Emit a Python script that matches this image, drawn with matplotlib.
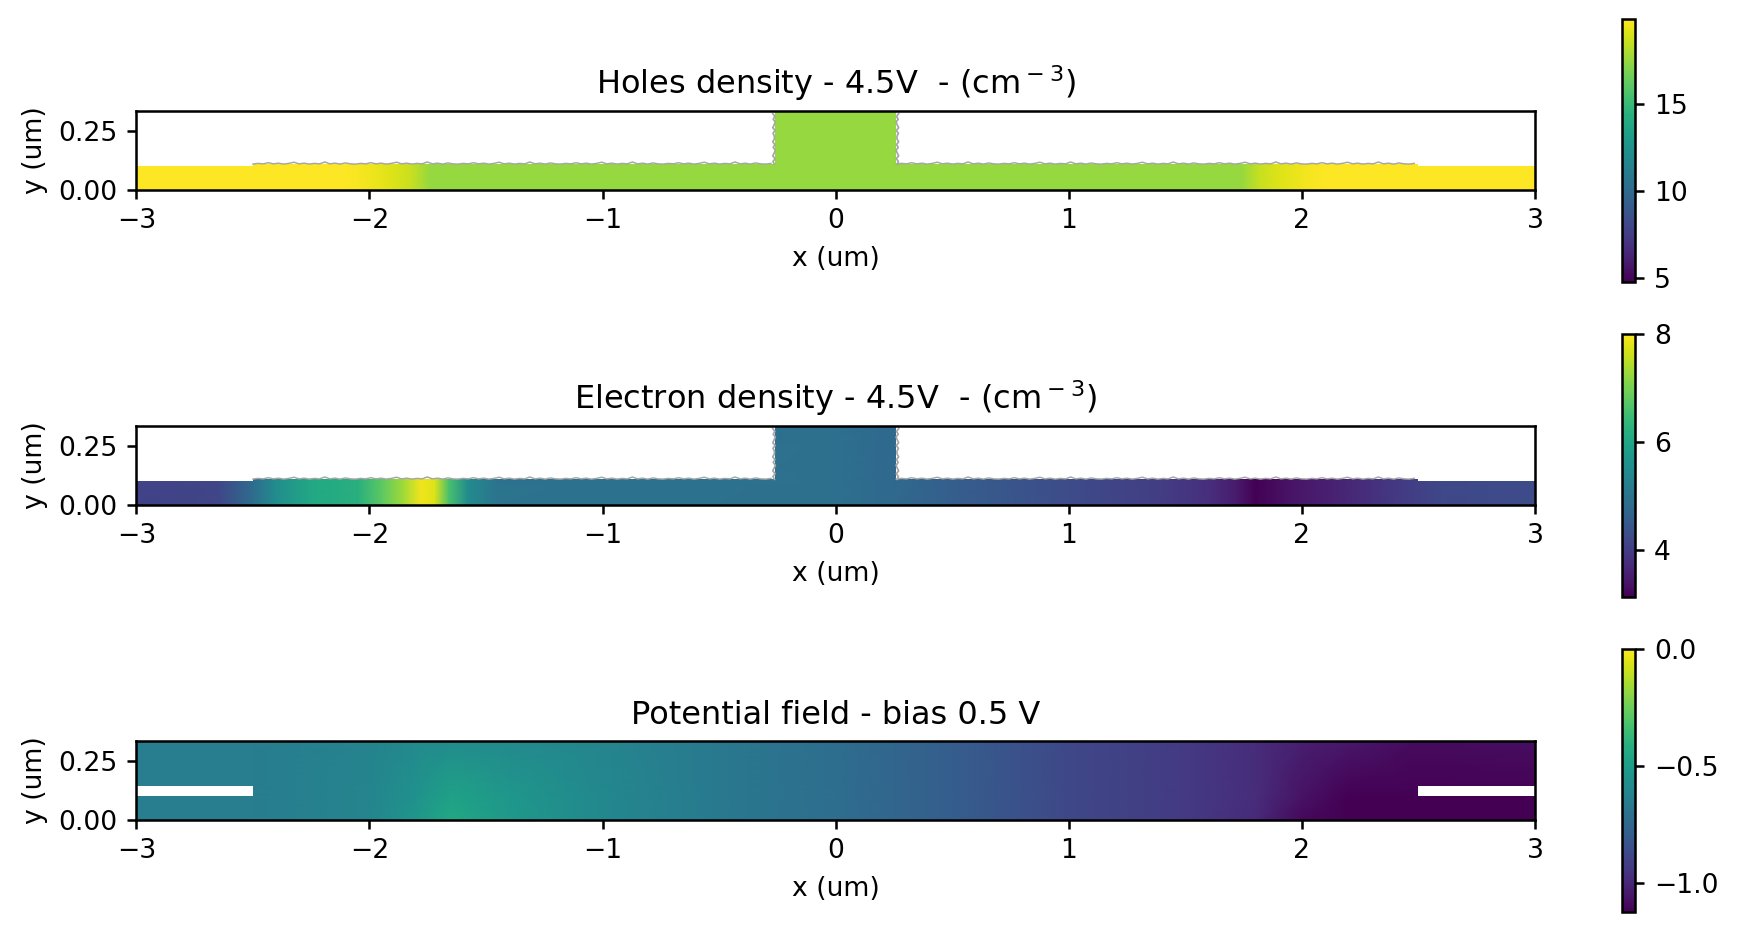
import numpy as np
import matplotlib
matplotlib.use("Agg")
import matplotlib.pyplot as plt
from matplotlib.patches import Polygon

W, H = 1739, 931
DPI = 192
plt.rcParams["axes.linewidth"] = 0.95
plt.rcParams["xtick.major.width"] = 0.95
plt.rcParams["ytick.major.width"] = 0.95

titles = ["Holes density - 4.5V  - (cm$^-$$^3$)",
          "Electron density - 4.5V  - (cm$^-$$^3$)",
          "Potential field - bias 0.5 V"]

holes_x = [-3, -2.1, -2.0, -1.9, -1.82, -1.74, 1.74, 1.82, 1.9, 2.0, 2.1, 3]
holes_v = [19.85, 19.85, 19.6, 19.1, 18.6, 17.5, 17.5, 18.6, 19.1, 19.6, 19.85, 19.85]
holes_lim = (4.77, 19.9)

electron_x = [-3, -2.65, -2.5, -2.4, -2.25, -2.05, -1.95, -1.85, -1.78, -1.72, -1.66, -1.58, -1.45,
              -0.5, 0, 0.25, 0.5, 1, 1.4, 1.6, 1.72, 1.8, 1.95, 2.15, 2.4, 2.6, 3]
electron_v = [4.10, 4.15, 4.85, 5.5, 6.05, 6.2, 6.75, 7.35, 7.9, 7.75, 6.6, 5.5, 5.0,
              4.95, 4.92, 4.78, 4.6, 4.25, 4.0, 3.8, 3.5, 3.15, 3.4, 3.6, 3.95, 4.2, 4.25]
electron_lim = (3.14, 8.0)

potential_x = [-3, -2.5, -2.0, -1.8, -1.65, -1.4, -1, -0.5, 0, 0.5, 1, 1.5, 1.8, 2, 2.2, 2.5, 3]
potential_y = [0, 0.1, 0.34]
potential_v0 = [-0.65, -0.65, -0.61, -0.53, -0.45, -0.52, -0.60, -0.67, -0.72, -0.79, -0.88, -0.93, -0.99, -1.10, -1.12, -1.12, -1.12]
potential_v1 = [-0.65, -0.65, -0.61, -0.55, -0.48, -0.53, -0.60, -0.67, -0.72, -0.79, -0.88, -0.93, -0.98, -1.07, -1.12, -1.12, -1.12]
potential_v2 = [-0.65, -0.65, -0.62, -0.59, -0.58, -0.59, -0.61, -0.67, -0.72, -0.79, -0.88, -0.93, -0.98, -1.03, -1.05, -1.09, -1.08]
potential_lim = (-1.123, 0.0)

edge_jag = [0.109, 0.112, 0.110, 0.115, 0.110, 0.113, 0.109, 0.112, 0.117, 0.110,
            0.113, 0.109, 0.112, 0.110, 0.118, 0.110, 0.113, 0.109, 0.114, 0.110]
side_jag = [0.000, 0.006, -0.003, 0.007, 0.001, -0.004, 0.005, -0.002, 0.007, 0.000]

ax_boxes = [(136.4, 111, 1535, 189.7), (136.4, 426, 1535, 504.7), (136.4, 741, 1535, 819.7)]
cb_boxes = [(1621.7, 19, 1635.3, 281.7), (1621.7, 334, 1635.3, 597), (1621.7, 649, 1635.3, 911.7)]


def frac_box(b):
    return [b[0] / W, 1 - b[3] / H, (b[2] - b[0]) / W, (b[3] - b[1]) / H]


fig = plt.figure(figsize=(W / DPI, H / DPI), dpi=DPI)
axes = [fig.add_axes(frac_box(b)) for b in ax_boxes]
caxes = [fig.add_axes(frac_box(b)) for b in cb_boxes]

YMAX = 0.335
device_y = [0, YMAX]

fields = [
    (np.array(holes_x), np.array(device_y), np.array([holes_v, holes_v]), holes_lim),
    (np.array(electron_x), np.array(device_y), np.array([electron_v, electron_v]), electron_lim),
    (np.array(potential_x), np.array(potential_y),
     np.array([potential_v0, potential_v1, potential_v2]), potential_lim),
]

for i, (ax, cax, (x, y, z, lim)) in enumerate(zip(axes, caxes, fields)):
    mesh = ax.pcolormesh(x, y, z, shading="gouraud", cmap="viridis", vmin=lim[0], vmax=lim[1])
    if i < 2:
        outline = [(-3, 0), (3, 0), (3, 0.1), (2.5, 0.1), (2.5, 0.108), (0.26, 0.108), (0.26, YMAX),
                   (-0.26, YMAX), (-0.26, 0.108), (-2.5, 0.108), (-2.5, 0.1), (-3, 0.1)]
        mesh.set_clip_path(Polygon(outline, closed=True, transform=ax.transData))
        xs_l = np.arange(-2.5, -0.26, 0.022)
        xs_r = np.arange(0.26, 2.5, 0.022)
        for xs in (xs_l, xs_r):
            ax.plot(xs, np.resize(edge_jag, xs.size), color="#a6a6a6", lw=0.55, solid_joinstyle="round")
        ys = np.arange(0.108, YMAX, 0.012)
        for sx in (-0.263, 0.263):
            ax.plot(sx + np.resize(side_jag, ys.size) * np.sign(sx), ys, color="#a6a6a6", lw=0.65)
    else:
        notch = [(-3, 0), (3, 0), (3, 0.1), (2.5, 0.1), (2.5, 0.145), (3, 0.145), (3, YMAX),
                 (-3, YMAX), (-3, 0.145), (-2.5, 0.145), (-2.5, 0.1), (-3, 0.1)]
        mesh.set_clip_path(Polygon(notch, closed=True, transform=ax.transData))
    ax.set_xlim(-3, 3)
    ax.set_ylim(0, YMAX)
    ax.set_yticks([0, 0.25])
    ax.set_yticklabels(["0.00", "0.25"])
    ax.set_xticks([-3, -2, -1, 0, 1, 2, 3])
    ax.set_xlabel("x (um)", labelpad=4.5)
    ax.set_ylabel("y (um)")
    ax.set_title(titles[i], fontsize=12, pad=6.3)
    fig.colorbar(mesh, cax=cax)

fig.savefig("out.png", dpi=DPI)
